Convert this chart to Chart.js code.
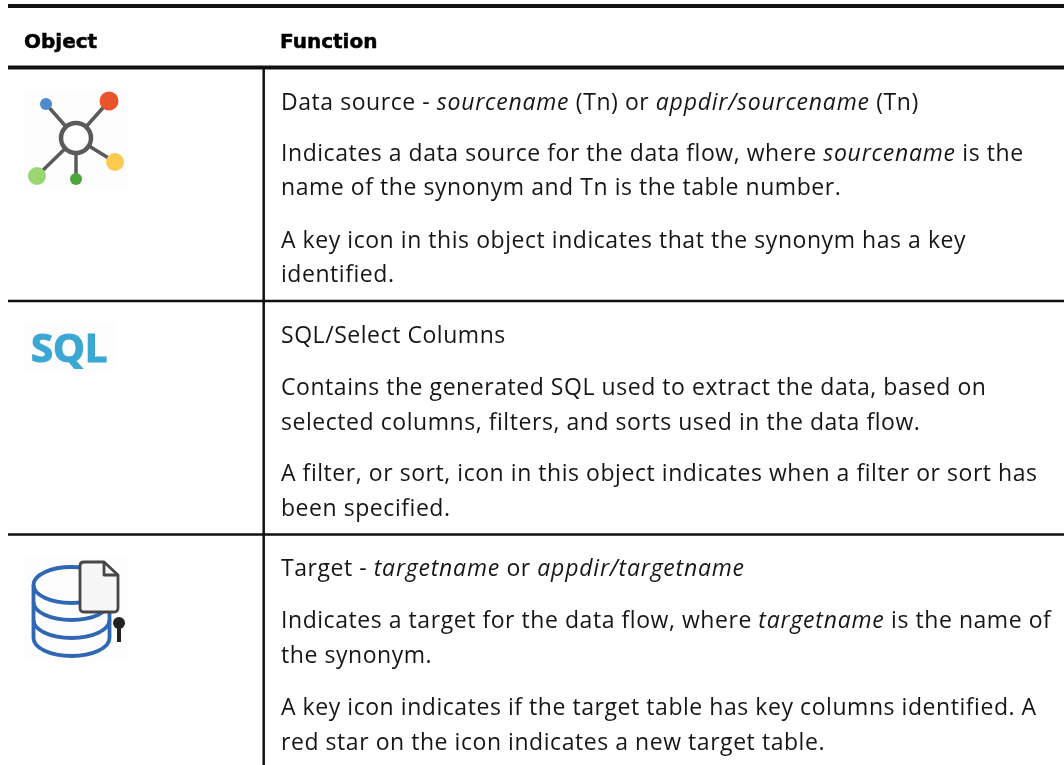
<!DOCTYPE html>
<html>
<head>
<meta charset="utf-8">
<title>Object and Function</title>
<script src="https://cdn.jsdelivr.net/npm/chart.js@4"></script>
<style>
  html, body { margin: 0; padding: 0; background: #ffffff; }
  canvas { display: block; }
</style>
</head>
<body>
<canvas id="table-chart" width="1064" height="765"></canvas>
<script>
/* Table contents. Text between asterisks is set in italics. */
var headers = ["Object", "Function"];
var sourceLines = [
  "Data source - *sourcename* (Tn) or *appdir/sourcename* (Tn)",
  "Indicates a data source for the data flow, where *sourcename* is the",
  "name of the synonym and Tn is the table number.",
  "A key icon in this object indicates that the synonym has a key",
  "identified."
];
var sqlLines = [
  "SQL/Select Columns",
  "Contains the generated SQL used to extract the data, based on",
  "selected columns, filters, and sorts used in the data flow.",
  "A filter, or sort, icon in this object indicates when a filter or sort has",
  "been specified."
];
var targetLines = [
  "Target - *targetname* or *appdir/targetname*",
  "Indicates a target for the data flow, where *targetname* is the name of",
  "the synonym.",
  "A key icon indicates if the target table has key columns identified. A",
  "red star on the icon indicates a new target table."
];
var iconLabel = "SQL";

var INK = "#161616";
var BODY_FONT = '"Open Sans", sans-serif';

/* ----------------------------
   Helpers for the full page scales: x and y both count page pixels.
   ---------------------------- */
function rule(x1, y1, x2, y2, width) {
  return {
    type: "line",
    data: [{ x: x1, y: y1 }, { x: x2, y: y2 }],
    borderColor: "#111111",
    borderWidth: width,
    pointRadius: 0,
    clip: false
  };
}

function spoke(x, y) {
  return {
    type: "line",
    data: [{ x: 76, y: 138 }, { x: x, y: y }],
    borderColor: "#595b59",
    borderWidth: 3.5,
    pointRadius: 0
  };
}

function node(x, y, radius, fill, border) {
  return {
    type: "scatter",
    data: [{ x: x, y: y }],
    pointRadius: radius,
    backgroundColor: fill,
    borderColor: border || fill,
    borderWidth: border ? 4.5 : 0
  };
}

/* Writes one line, switching to italics between asterisks */
function writeLine(ctx, text, x, y) {
  var parts = text.split("*");
  for (var i = 0; i < parts.length; i++) {
    ctx.font = (i % 2 ? "italic " : "") + "23px " + BODY_FONT;
    ctx.letterSpacing = i % 2 ? "0.78px" : "0.55px";
    ctx.fillText(parts[i], x, y);
    x += ctx.measureText(parts[i]).width;
  }
}

function writeBlock(ctx, xScale, yScale, lines, baselines) {
  for (var i = 0; i < lines.length; i++) {
    writeLine(ctx, lines[i], xScale.getPixelForValue(281), yScale.getPixelForValue(baselines[i]));
  }
}

/* The database icon of the last row */
function drawTargetIcon(ctx) {
  var blue = "#2f67b5";
  ctx.strokeStyle = blue;
  ctx.lineWidth = 3.8;
  ctx.beginPath();
  ctx.ellipse(71.5, 585, 38, 18, 0, 0, Math.PI * 2);
  ctx.stroke();
  ctx.beginPath();
  ctx.moveTo(33.5, 585);
  ctx.lineTo(33.5, 638);
  ctx.ellipse(71.5, 638, 38, 18, 0, Math.PI, 0, true);
  ctx.lineTo(109.5, 585);
  ctx.stroke();
  ctx.beginPath();
  ctx.ellipse(71.5, 602, 38, 18, 0, Math.PI, 0, true);
  ctx.stroke();
  ctx.beginPath();
  ctx.ellipse(71.5, 620, 38, 18, 0, Math.PI, 0, true);
  ctx.stroke();

  // sheet of paper over the stack
  ctx.fillStyle = "#f7f7f7";
  ctx.strokeStyle = "#474747";
  ctx.lineWidth = 2.8;
  ctx.lineJoin = "round";
  ctx.beginPath();
  ctx.moveTo(84, 562);
  ctx.lineTo(104, 562);
  ctx.lineTo(118, 575);
  ctx.lineTo(118, 608);
  ctx.quadraticCurveTo(118, 612, 114, 612);
  ctx.lineTo(84, 612);
  ctx.quadraticCurveTo(80, 612, 80, 608);
  ctx.lineTo(80, 566);
  ctx.quadraticCurveTo(80, 562, 84, 562);
  ctx.closePath();
  ctx.fill();
  ctx.stroke();
  ctx.beginPath();
  ctx.moveTo(104, 562);
  ctx.lineTo(104, 575);
  ctx.lineTo(118, 575);
  ctx.stroke();

  // key
  ctx.fillStyle = "#222222";
  ctx.beginPath();
  ctx.arc(119, 623, 6, 0, Math.PI * 2);
  ctx.fill();
  ctx.fillRect(117, 625, 4, 17);
}

var tableText = {
  id: "tableText",
  beforeDatasetsDraw: function (chart) {
    // the icons were pasted in on a barely off-white ground
    var ctx = chart.ctx;
    ctx.save();
    ctx.fillStyle = "#fcfdfc";
    ctx.fillRect(24, 90, 105, 100);
    ctx.fillRect(24, 323, 91, 49);
    ctx.fillRect(24, 558, 103, 100);
    ctx.restore();
  },
  afterDatasetsDraw: function (chart) {
    var ctx = chart.ctx;
    var x = chart.scales.x;
    var y = chart.scales.y;
    ctx.save();
    ctx.textBaseline = "alphabetic";
    ctx.textAlign = "left";
    ctx.fillStyle = "#000000";
    ctx.strokeStyle = "#000000";
    ctx.lineWidth = 0.5;

    ctx.font = 'bold 20px "DejaVu Sans", sans-serif';
    ctx.fillText(headers[0], x.getPixelForValue(24), y.getPixelForValue(48));
    ctx.strokeText(headers[0], x.getPixelForValue(24), y.getPixelForValue(48));
    ctx.fillText(headers[1], x.getPixelForValue(280), y.getPixelForValue(48));
    ctx.strokeText(headers[1], x.getPixelForValue(280), y.getPixelForValue(48));

    ctx.fillStyle = INK;
    writeBlock(ctx, x, y, sourceLines, [110, 161, 195, 248, 282]);
    writeBlock(ctx, x, y, sqlLines, [343, 395, 430, 481, 516]);
    writeBlock(ctx, x, y, targetLines, [576, 628, 663, 715, 750]);
    ctx.letterSpacing = "0px";

    ctx.fillStyle = "#3ba7d3";
    ctx.strokeStyle = "#3ba7d3";
    ctx.lineWidth = 1.2;
    ctx.font = 'bold 40px "Open Sans", sans-serif';
    ctx.fillText(iconLabel, x.getPixelForValue(31), y.getPixelForValue(362));
    ctx.strokeText(iconLabel, x.getPixelForValue(31), y.getPixelForValue(362));

    drawTargetIcon(ctx);
    ctx.restore();
  }
};

// Chart.js paints the first dataset last, so the nodes come before the spokes
var chartDatasets = [
  node(46, 104, 6, "#4d8cc8"),
  node(109, 101, 9.5, "#e8552b"),
  node(115, 162, 9, "#fdca50"),
  node(37, 176, 9, "#9ad672"),
  node(76, 179, 6, "#4aa63c"),
  node(76, 138, 15, "#ffffff", "#595b59"),
  spoke(46, 104),
  spoke(109, 101),
  spoke(115, 162),
  spoke(37, 176),
  spoke(76, 179),
  rule(8, 6, 1064, 6, 4),
  rule(8, 67.5, 1064, 67.5, 4),
  rule(8, 301, 1064, 301, 2.5),
  rule(8, 534.5, 1064, 534.5, 2.5),
  rule(263.7, 67, 263.7, 765, 2.5)
];

new Chart(document.getElementById("table-chart").getContext("2d"), {
  type: "scatter",
  data: { datasets: chartDatasets },
  options: {
    responsive: false,
    animation: false,
    layout: { padding: 0, autoPadding: false },
    plugins: { legend: { display: false }, tooltip: { enabled: false } },
    scales: {
      x: { type: "linear", min: 0, max: 1064, display: false },
      y: { type: "linear", min: 0, max: 765, reverse: true, display: false }
    }
  },
  plugins: [tableText]
});
</script>
</body>
</html>
